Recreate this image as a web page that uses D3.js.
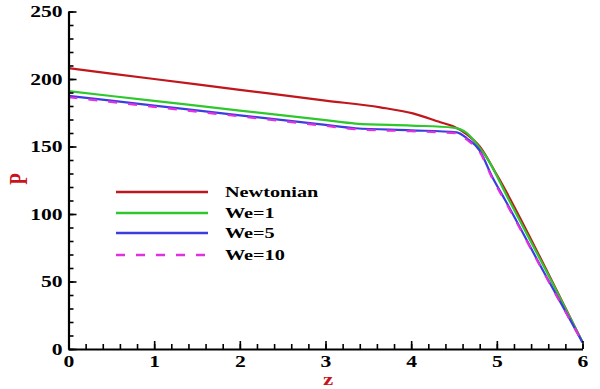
<!DOCTYPE html>
<html>
<head>
<meta charset="utf-8">
<script src="https://cdn.jsdelivr.net/npm/d3@7"></script>
<style>
  body { margin: 0; background: #fff; }
</style>
</head>
<body>
<div id="chart"></div>
<script>
// data
var seriesNames = ["Newtonian", "We=1", "We=5", "We=10"];
var zNewt = [0, 1, 2, 3, 3.64, 4.02, 4.34, 4.49, 4.65, 4.8, 5.0, 5.6, 6];
var pNewt = [208, 200, 192, 184, 179, 174.5, 168, 165, 159, 150, 129, 56, 5];
var zWe1 = [0, 1, 2, 3, 3.35, 4.0, 4.49, 4.65, 4.8, 4.88, 5.12, 5.6, 6];
var pWe1 = [191, 183.8, 176.6, 169.5, 167, 165.5, 164, 160, 149, 142, 113, 55, 5];
var zWe5 = [0, 1, 2, 3, 3.35, 4.0, 4.53, 4.65, 4.8, 4.95, 5.1, 5.54, 6];
var pWe5 = [187.5, 180.3, 173.1, 166, 163.5, 162, 160.5, 156, 147, 127, 110, 58, 5];
var zWe10 = [0, 1, 2, 3, 3.35, 4.0, 4.53, 4.65, 4.8, 4.95, 5.1, 5.54, 6];
var pWe10 = [186.5, 179.4, 172.3, 165.3, 162.8, 161.3, 159.8, 155, 146, 126, 109, 57.5, 5];
var xTicks = [0, 1, 2, 3, 4, 5, 6];
var yTicks = [0, 50, 100, 150, 200, 250];

var colors = ["#c0161c", "#2ec82e", "#3c3ce0", "#e030e0"];
var dashes = [null, null, null, "9,11"];
var serif = "'Liberation Serif', 'Times New Roman', Times, serif";
var stretch = 1.35; // the picture's text is wider than normal

var width = 600, height = 389;
var svg = d3.select("#chart").append("svg")
    .attr("width", width)
    .attr("height", height);

var x = d3.scaleLinear().domain([0, 6]).range([68.5, 582.5]);
var y = d3.scaleLinear().domain([0, 250]).range([349, 11.5]);

var series = [
    { name: seriesNames[0], z: zNewt, p: pNewt },
    { name: seriesNames[1], z: zWe1, p: pWe1 },
    { name: seriesNames[2], z: zWe5, p: pWe5 },
    { name: seriesNames[3], z: zWe10, p: pWe10 }
];

var line = d3.line()
    .x(function (d) { return x(d[0]); })
    .y(function (d) { return y(d[1]); })
    .curve(d3.curveMonotoneX);

svg.selectAll(".curve")
    .data(series)
    .enter().append("path")
    .attr("class", "curve")
    .attr("fill", "none")
    .attr("stroke", function (d, i) { return colors[i]; })
    .attr("stroke-width", 2.2)
    .attr("stroke-dasharray", function (d, i) { return dashes[i]; })
    .attr("d", function (d) { return line(d.z.map(function (v, k) { return [v, d.p[k]]; })); });

// minor ticks
svg.append("g")
    .attr("transform", "translate(0," + y(0) + ")")
    .call(d3.axisBottom(x).tickValues(d3.range(0, 6.001, 0.2)).tickSize(-5).tickFormat(""))
    .call(function (g) { g.select(".domain").remove(); });
svg.append("g")
    .attr("transform", "translate(" + x(0) + ",0)")
    .call(d3.axisLeft(y).tickValues(d3.range(0, 250.1, 10)).tickSize(-5).tickFormat(""))
    .call(function (g) { g.select(".domain").remove(); });

// major axes
var xAxis = svg.append("g")
    .attr("transform", "translate(0," + y(0) + ")")
    .call(d3.axisBottom(x).tickValues(xTicks).tickSize(-8).tickSizeOuter(0).tickPadding(7).tickFormat(d3.format("d")));
var yAxis = svg.append("g")
    .attr("transform", "translate(" + x(0) + ",0)")
    .call(d3.axisLeft(y).tickValues(yTicks).tickSize(-8).tickSizeOuter(0).tickPadding(4.4).tickFormat(d3.format("d")));

svg.selectAll(".tick line").attr("stroke", "#000").attr("stroke-width", 1.6);
[xAxis, yAxis].forEach(function (a) {
    a.attr("font-family", null);
    a.select(".domain").attr("stroke", "#000").attr("stroke-width", 2.2);
    a.selectAll("text")
        .attr("fill", "#000")
        .style("font-family", serif)
        .style("font-weight", "bold")
        .style("font-size", "16px")
        .attr("transform", "scale(" + stretch + ",1)");
});

// axis titles
svg.append("text")
    .attr("transform", "translate(328,385.3) scale(" + stretch + ",1)")
    .attr("text-anchor", "middle")
    .attr("fill", "#c8141a")
    .style("font-family", serif)
    .style("font-weight", "bold")
    .style("font-size", "17px")
    .text("z");
svg.append("text")
    .attr("transform", "translate(27,179) rotate(-90) scale(1," + stretch + ")")
    .attr("text-anchor", "middle")
    .attr("fill", "#c8141a")
    .style("font-family", serif)
    .style("font-weight", "bold")
    .style("font-size", "19px")
    .text("P");

// legend
var legend = svg.append("g");
var rowY = [192, 213, 233, 255];
series.forEach(function (s, i) {
    legend.append("line")
        .attr("x1", 116).attr("x2", 208)
        .attr("y1", rowY[i]).attr("y2", rowY[i])
        .attr("stroke", colors[i])
        .attr("stroke-width", 2.6)
        .attr("stroke-dasharray", dashes[i]);
    legend.append("text")
        .attr("transform", "translate(225," + (rowY[i] + 5) + ") scale(" + stretch + ",1)")
        .attr("fill", "#000")
        .style("font-family", serif)
        .style("font-weight", "bold")
        .style("font-size", "15px")
        .text(s.name);
});
</script>
</body>
</html>
